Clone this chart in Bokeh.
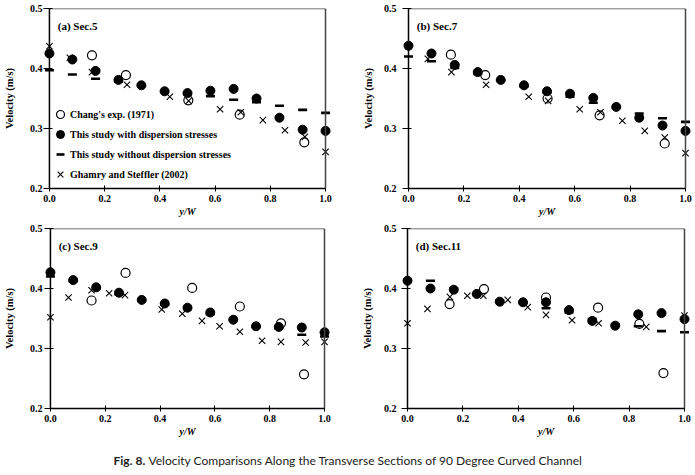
from bokeh.plotting import figure
from bokeh.layouts import row, column
from bokeh.models import (Range1d, LinearAxis, FixedTicker, PrintfTickFormatter,
                          Legend, LegendItem, Label, Span)
from bokeh.embed import file_html
from bokeh.resources import INLINE

# ---------------- data ----------------
study_x = [0.0, 0.083, 0.167, 0.25, 0.333, 0.417, 0.5, 0.583, 0.667, 0.75, 0.833, 0.917, 1.0]
x_ticks = [0.0, 0.2, 0.4, 0.6, 0.8, 1.0]
y_ticks = [0.2, 0.3, 0.4, 0.5]
panel_titles = ["(a) Sec.5", "(b) Sec.7", "(c) Sec.9", "(d) Sec.11"]
series_names = ["Chang's exp. (1971)", "This study with dispersion stresses",
                "This study without dispersion stresses", "Ghamry and Steffler (2002)"]

# (a) Sec.5
chang_x_a = [0.154, 0.277, 0.503, 0.689, 0.923]
chang_y_a = [0.422, 0.389, 0.347, 0.323, 0.277]
with_a = [0.425, 0.415, 0.396, 0.381, 0.372, 0.362, 0.359, 0.363, 0.366, 0.350, 0.318, 0.298, 0.296]
without_a = [0.397, 0.390, 0.383, 0.378, 0.372, 0.362, 0.357, 0.354, 0.348, 0.344, 0.338, 0.331, 0.326]
ghamry_x_a = [0.0, 0.074, 0.154, 0.281, 0.436, 0.504, 0.618, 0.693, 0.773, 0.853, 0.925, 1.0]
ghamry_y_a = [0.437, 0.418, 0.394, 0.373, 0.353, 0.346, 0.332, 0.327, 0.314, 0.297, 0.286, 0.261]

# (b) Sec.7
chang_x_b = [0.153, 0.277, 0.502, 0.690, 0.925]
chang_y_b = [0.423, 0.389, 0.350, 0.322, 0.275]
with_b = [0.438, 0.425, 0.406, 0.394, 0.381, 0.372, 0.362, 0.358, 0.351, 0.336, 0.318, 0.305, 0.296]
without_b = [0.420, 0.412, 0.401, 0.391, 0.380, 0.370, 0.360, 0.353, 0.343, 0.335, 0.325, 0.317, 0.311]
ghamry_x_b = [0.0, 0.070, 0.155, 0.280, 0.434, 0.504, 0.618, 0.693, 0.772, 0.853, 0.925, 1.0]
ghamry_y_b = [0.437, 0.416, 0.394, 0.373, 0.353, 0.346, 0.332, 0.327, 0.313, 0.296, 0.285, 0.259]

# (c) Sec.9
chang_x_c = [0.150, 0.274, 0.517, 0.691, 0.841, 0.925]
chang_y_c = [0.380, 0.426, 0.401, 0.370, 0.342, 0.257]
with_c = [0.427, 0.414, 0.402, 0.393, 0.381, 0.375, 0.368, 0.360, 0.348, 0.337, 0.336, 0.335, 0.327]
without_c = [0.420, 0.412, 0.400, 0.390, 0.380, 0.373, 0.366, 0.357, 0.348, 0.336, 0.334, 0.323, 0.320]
ghamry_x_c = [0.0, 0.066, 0.150, 0.214, 0.272, 0.406, 0.481, 0.553, 0.617, 0.691, 0.772, 0.841, 0.931, 1.0]
ghamry_y_c = [0.352, 0.385, 0.397, 0.392, 0.389, 0.365, 0.358, 0.346, 0.337, 0.328, 0.313, 0.311, 0.310, 0.311]

# (d) Sec.11
chang_x_d = [0.152, 0.276, 0.500, 0.688, 0.837, 0.924]
chang_y_d = [0.374, 0.399, 0.385, 0.368, 0.341, 0.259]
with_d = [0.413, 0.400, 0.398, 0.391, 0.378, 0.377, 0.377, 0.364, 0.346, 0.338, 0.357, 0.359, 0.349]
without_d = [0.413, 0.413, 0.400, 0.390, 0.380, 0.376, 0.367, 0.360, 0.349, 0.340, 0.337, 0.329, 0.327]
ghamry_x_d = [0.0, 0.072, 0.153, 0.216, 0.274, 0.362, 0.434, 0.500, 0.594, 0.690, 0.862, 1.0]
ghamry_y_d = [0.342, 0.366, 0.386, 0.388, 0.388, 0.381, 0.369, 0.356, 0.347, 0.342, 0.336, 0.355]

caption_bold = "Fig. 8."
caption_text = "Velocity Comparisons Along the Transverse Sections of 90 Degree Curved Channel"

SERIF = "Liberation Serif"
PAD = 6  # px of horizontal room so edge markers are not clipped


def style_labels(ax):
    ax.major_label_text_font = SERIF
    ax.major_label_text_font_style = "bold"
    ax.major_label_text_font_size = "10px"
    ax.major_label_text_color = "black"
    ax.axis_label_text_font = SERIF
    ax.axis_label_text_color = "black"
    ax.minor_tick_line_color = None
    ax.minor_tick_in = 0
    ax.minor_tick_out = 0


def make_panel(title, chang_x, chang_y, with_y, without_y, ghamry_x, ghamry_y,
               fig_w, fig_h, left, span_w, top, span_h,
               tick_standoff, ylabel_standoff, legend=False):
    pad = PAD / span_w
    p = figure(width=fig_w, height=fig_h, output_backend="svg", toolbar_location=None,
               x_range=Range1d(-pad, 1 + pad), y_range=Range1d(0.2, 0.5),
               x_axis_location=None, y_axis_location=None,
               min_border_left=left - PAD, min_border_right=fig_w - left - span_w - PAD,
               min_border_top=top, min_border_bottom=fig_h - top - span_h)
    p.outline_line_color = None
    p.xgrid.visible = False
    p.ygrid.visible = False
    p.background_fill_color = "white"
    p.border_fill_color = "white"

    # bottom axis: line, ticks, labels (at the frame's bottom edge)
    xaxis = LinearAxis(bounds=(0, 1), ticker=FixedTicker(ticks=x_ticks),
                       formatter=PrintfTickFormatter(format="%.1f"), axis_label="y/W")
    style_labels(xaxis)
    xaxis.axis_line_color = "black"
    xaxis.axis_line_width = 1.5
    xaxis.major_tick_line_color = "black"
    xaxis.major_tick_in = 3
    xaxis.major_tick_out = 3
    xaxis.major_label_standoff = 3
    xaxis.axis_label_standoff = 1
    xaxis.axis_label_text_font_style = "bold italic"
    xaxis.axis_label_text_font_size = "10px"
    p.add_layout(xaxis, "below")

    # left axis: ticks + labels at the frame's left edge; the ticks reach over x = 0
    ylab = LinearAxis(ticker=FixedTicker(ticks=y_ticks),
                      formatter=PrintfTickFormatter(format="%.1f"), axis_label="Velocity (m/s)")
    style_labels(ylab)
    ylab.axis_line_color = None
    ylab.major_tick_line_color = "black"
    ylab.major_tick_in = PAD + 3
    ylab.major_tick_out = 0
    ylab.major_label_standoff = tick_standoff
    ylab.axis_label_standoff = ylabel_standoff
    ylab.axis_label_text_font_style = "bold"
    ylab.axis_label_text_font_size = "10.5px"
    p.add_layout(ylab, "left")
    # white cover so the tick stubs only stick 3 px out of the x = 0 line
    p.add_layout(Span(location=0.0, dimension="height", line_color="black", line_width=1.5))

    topaxis = LinearAxis(fixed_location=0.5, bounds=(0, 1), ticker=FixedTicker(ticks=[]))
    rightaxis = LinearAxis(fixed_location=1.0, bounds=(0.2, 0.5), ticker=FixedTicker(ticks=[]))
    for ax in (topaxis, rightaxis):
        ax.axis_line_color = "#444444"
        ax.axis_line_width = 1.5
        ax.major_tick_line_color = None
        ax.minor_tick_line_color = None
    p.add_layout(topaxis, "above")
    p.add_layout(rightaxis, "right")

    # data
    r_without = p.scatter(study_x, without_y, marker="dash", size=9, line_color="black",
                          line_width=2.6)
    r_with = p.scatter(study_x, with_y, marker="circle", size=9, fill_color="black",
                       line_color="black")
    r_chang = p.scatter(chang_x, chang_y, marker="circle", size=9, fill_alpha=0,
                        line_color="black", line_width=1.2)
    r_gham = p.scatter(ghamry_x, ghamry_y, marker="x", size=9, line_color="black",
                       line_width=1.1)

    p.add_layout(Label(x=0.03, y=0.471, text=title, text_font=SERIF, text_font_style="bold",
                       text_font_size="11px", text_baseline="middle", text_color="black"))

    if legend:
        items = [LegendItem(label=series_names[0], renderers=[r_chang]),
                 LegendItem(label=series_names[1], renderers=[r_with]),
                 LegendItem(label=series_names[2], renderers=[r_without]),
                 LegendItem(label=series_names[3], renderers=[r_gham])]
        lg = Legend(items=items, location=(7, 4), padding=0, margin=0, spacing=0,
                    glyph_width=20, glyph_height=20, label_height=20, label_standoff=0,
                    border_line_color=None, background_fill_alpha=0,
                    label_text_font=SERIF, label_text_font_style="bold",
                    label_text_font_size="10px", label_text_color="black")
        p.add_layout(lg)
    return p


# y tick-label standoff is measured from the frame edge (PAD px left of x = 0)
pa = make_panel(panel_titles[0], chang_x_a, chang_y_a, with_a, without_a, ghamry_x_a, ghamry_y_a,
                345, 220, 46, 279, 8, 180, 1, 12, legend=True)
pb = make_panel(panel_titles[1], chang_x_b, chang_y_b, with_b, without_b, ghamry_x_b, ghamry_y_b,
                350, 220, 63, 277, 8, 181, 6, 7)
pc = make_panel(panel_titles[2], chang_x_c, chang_y_c, with_c, without_c, ghamry_x_c, ghamry_y_c,
                345, 220, 47, 277, 8, 180, 2, 12)
pd = make_panel(panel_titles[3], chang_x_d, chang_y_d, with_d, without_d, ghamry_x_d, ghamry_y_d,
                350, 220, 62, 277, 8, 181, 5, 8)

cap = figure(width=695, height=35, output_backend="svg", toolbar_location=None,
             x_range=Range1d(0, 1), y_range=Range1d(0, 1),
             x_axis_location=None, y_axis_location=None,
             min_border=0)
cap.outline_line_color = None
cap.xgrid.visible = False
cap.ygrid.visible = False
cap.add_layout(Label(x=113, y=15, x_units="screen", y_units="screen", text=caption_bold,
                     text_font="Lato", text_font_style="bold", text_font_size="12px",
                     text_baseline="middle", text_color="#222222"))
cap.add_layout(Label(x=148, y=15, x_units="screen", y_units="screen", text=caption_text,
                     text_font="Lato", text_font_size="12px",
                     text_baseline="middle", text_color="#222222"))

layout = column(row(pa, pb), row(pc, pd), cap)
open("out.html", "w").write(file_html(layout, INLINE))
